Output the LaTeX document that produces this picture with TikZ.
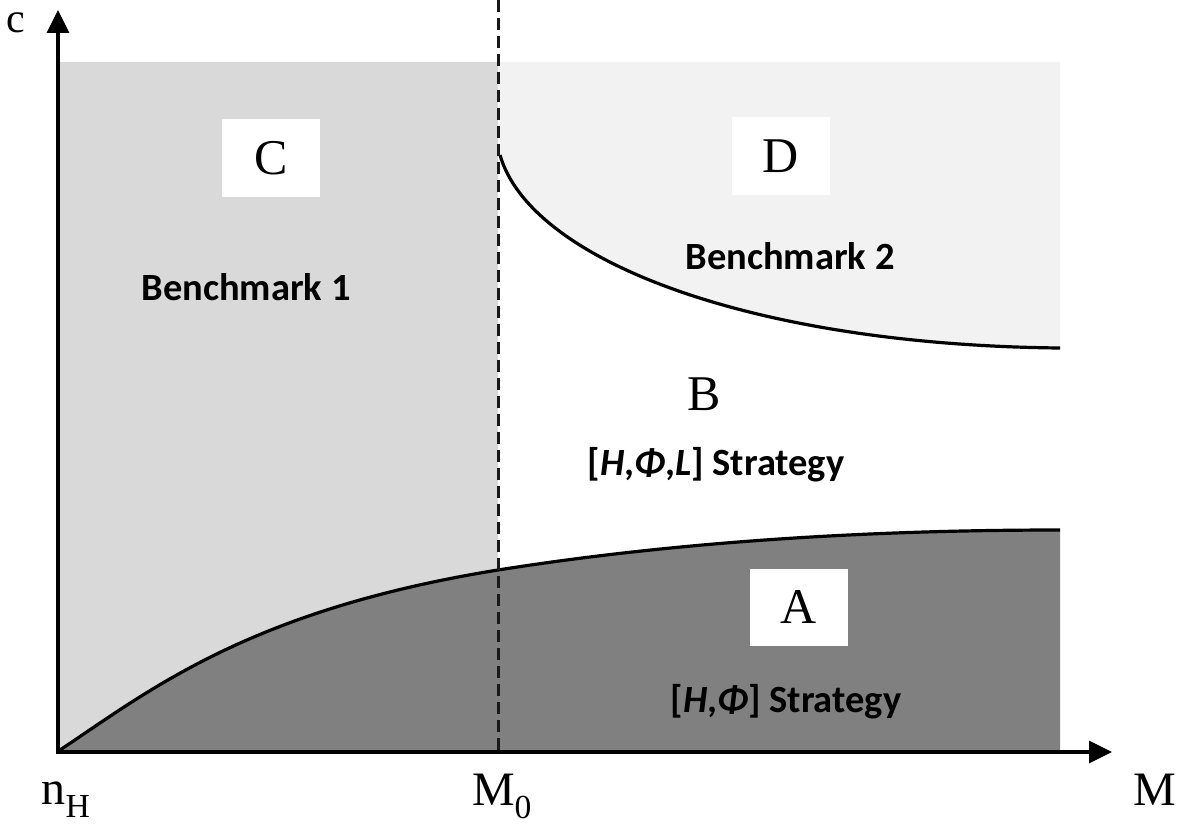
\documentclass[tikz,border=0pt]{standalone}
\usepackage{fontspec}
\setmainfont{Liberation Serif}
\newfontfamily\calibfont{Carlito}
\usetikzlibrary{arrows.meta}
\definecolor{regC}{HTML}{D9D9D9}
\definecolor{regD}{HTML}{F2F2F2}
\definecolor{regA}{HTML}{808080}
\tikzset{
  axis/.style={line width=3.5pt, -{Triangle[length=23pt,width=22pt]}},
  curve/.style={line width=3.2pt},
  boxlabel/.style={fill=white, minimum width=98pt, minimum height=77pt, inner sep=0pt, font=\fontsize{50}{50}\selectfont},
  bench/.style={font=\calibfont\bfseries\fontsize{38.5}{38.5}\selectfont, inner sep=0pt},
  axlabel/.style={font=\fontsize{48}{48}\selectfont, inner sep=0pt},
}
\begin{document}
\begin{tikzpicture}[x=1pt,y=-1pt]
\useasboundingbox (0,0) rectangle (1186,824);
% coordinates
\coordinate (O) at (58,752);
\coordinate (ytip) at (58,10);
\coordinate (xtip) at (1112,752);
\coordinate (dtop) at (498,0);
\coordinate (dbot) at (498,750);
\coordinate (lstart) at (60,750);
\coordinate (lmid) at (498,570);
\coordinate (lend) at (1060,530);
\coordinate (ustart) at (500,155);
\coordinate (uend) at (1060,348);
% regions
\fill[regC] (58,62) rectangle (498,750);
\fill[regD] (498,62) -- (ustart) .. controls (530,260) and (750,345) .. (uend) -- (1060,62) -- cycle;
\fill[regA] (lstart) .. controls (150,690) and (250,610) .. (lmid) .. controls (700,538) and (900,530) .. (lend) -- (1060,750) -- (lstart) -- cycle;
% curves
\draw[curve] (lstart) .. controls (150,690) and (250,610) .. (lmid) .. controls (700,538) and (900,530) .. (lend);
\draw[curve] (ustart) .. controls (530,260) and (750,345) .. (uend);
% dashed line
\draw[line width=3pt, dash pattern=on 12pt off 6pt, black!90] (dtop) -- (dbot);
% axes
\draw[axis] (O) -- (ytip);
\draw[axis] ([xshift=-1.75pt]O) -- (xtip);
% boxes
\node[boxlabel] (boxC) at (271,158) {C};
\node[boxlabel] (boxD) at (781,156) {D};
\node[boxlabel] (boxA) at (799,607) {A};
\node[boxlabel, fill=none] (labB) at (704,394) {B};
% texts
\node[bench] (bench1) at (246,287) {Benchmark 1};
\node[bench] (bench2) at (790,256) {Benchmark 2};
\node[bench] (stratB) at (716,465) {[\textit{H},\textit{Φ},\textit{L}] Strategy};
\node[bench] (stratA) at (786,702) {[\textit{H},\textit{Φ}] Strategy};
% axis labels
\node[font=\fontsize{42}{42}\selectfont, inner sep=0pt, anchor=base] (labc) at (16,33) {c};
\node[axlabel, anchor=base] (labnH) at (66,804) {n\textsubscript{H}};
\node[axlabel, anchor=base] (labM0) at (502,805) {M\textsubscript{0}};
\node[axlabel, anchor=base] (labM) at (1155,805) {M};
\end{tikzpicture}
\end{document}
